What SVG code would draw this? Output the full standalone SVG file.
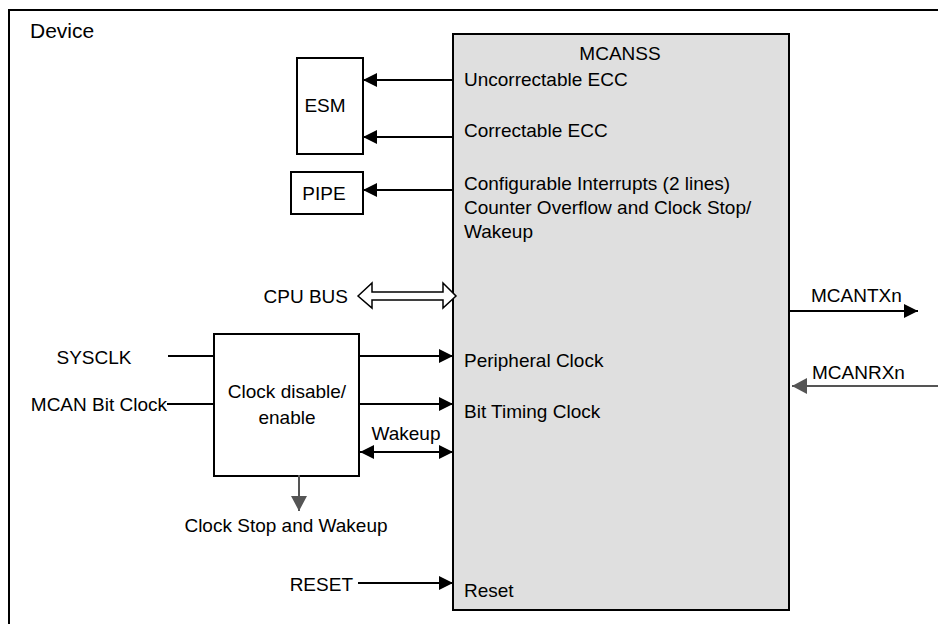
<svg xmlns="http://www.w3.org/2000/svg" width="938" height="624" viewBox="0 0 938 624">
<style>
text{font-family:"Liberation Sans",Arial,sans-serif;font-size:19px;fill:#000}
.box{fill:#fff;stroke:#000;stroke-width:2}
.ln{stroke:#000;stroke-width:2;fill:none}
.gl{stroke:#555;stroke-width:2;fill:none}
.m{text-anchor:middle}
.e{text-anchor:end}
</style>
<defs>
<marker id="ah" markerUnits="userSpaceOnUse" markerWidth="14" markerHeight="14" refX="12" refY="6" orient="auto-start-reverse" viewBox="0 0 12 12"><path d="M0,0 L12,6 L0,12 Z" fill="#000"/></marker>
<marker id="gh" markerUnits="userSpaceOnUse" markerWidth="16" markerHeight="18" refX="15" refY="8" orient="auto" viewBox="0 0 16 16"><path d="M0,0 L15,8 L0,16 Z" fill="#555"/></marker>
</defs>
<g id="device">
<rect x="9" y="10" width="960" height="640" fill="#fff" stroke="#000" stroke-width="2"/>
<text x="30" y="38" style="font-size:21px">Device</text>
</g>
<g id="mcanss">
<rect x="453" y="34" width="336" height="576" fill="#dfdfdf" stroke="#000" stroke-width="2"/>
<text x="620" y="60" class="m">MCANSS</text>
<text x="464" y="86">Uncorrectable ECC</text>
<text x="464" y="137">Correctable ECC</text>
<text x="464" y="190">Configurable Interrupts (2 lines)</text>
<text x="464" y="214">Counter Overflow and Clock Stop/</text>
<text x="464" y="238">Wakeup</text>
<text x="464" y="367">Peripheral Clock</text>
<text x="464" y="418">Bit Timing Clock</text>
<text x="464" y="597">Reset</text>
</g>
<g id="esm">
<rect x="297" y="58" width="66" height="96" class="box"/>
<text x="325" y="112" class="m">ESM</text>
</g>
<g id="pipe">
<rect x="291" y="172" width="72" height="42" class="box"/>
<text x="324" y="200" class="m">PIPE</text>
</g>
<g id="clock">
<rect x="214" y="334" width="145" height="142" class="box"/>
<text x="287" y="398" class="m">Clock disable/</text>
<text x="287" y="424" class="m">enable</text>
</g>
<g id="labels">
<text x="348" y="303" class="e">CPU BUS</text>
<text x="94" y="364" class="m">SYSCLK</text>
<text x="167" y="411" class="e">MCAN Bit Clock</text>
<text x="406" y="440" class="m">Wakeup</text>
<text x="286" y="532" class="m">Clock Stop and Wakeup</text>
<text x="353" y="591" class="e">RESET</text>
<text x="811" y="302">MCANTXn</text>
<text x="812" y="379">MCANRXn</text>
</g>
<g id="connectors">
<line x1="453" y1="80" x2="363" y2="80" class="ln" marker-end="url(#ah)"/>
<line x1="453" y1="137" x2="363" y2="137" class="ln" marker-end="url(#ah)"/>
<line x1="453" y1="190" x2="363" y2="190" class="ln" marker-end="url(#ah)"/>
<polygon points="358,296 372,283 372,292 443,292 443,283 456,296 443,308 443,300 372,300 372,308" fill="#fff" stroke="#000" stroke-width="1.5"/>
<line x1="168" y1="356" x2="214" y2="356" class="ln"/>
<line x1="167" y1="404" x2="214" y2="404" class="ln"/>
<line x1="359" y1="356" x2="453" y2="356" class="ln" marker-end="url(#ah)"/>
<line x1="359" y1="404" x2="453" y2="404" class="ln" marker-end="url(#ah)"/>
<line x1="360" y1="452" x2="453" y2="452" class="ln" marker-start="url(#ah)" marker-end="url(#ah)"/>
<line x1="299" y1="475" x2="299" y2="511" class="gl" marker-end="url(#gh)"/>
<line x1="358" y1="583" x2="453" y2="583" class="ln" marker-end="url(#ah)"/>
<line x1="789" y1="311" x2="918" y2="311" class="ln" marker-end="url(#ah)"/>
<line x1="938" y1="386" x2="792" y2="386" class="gl" marker-end="url(#gh)"/>
</g>
</svg>
